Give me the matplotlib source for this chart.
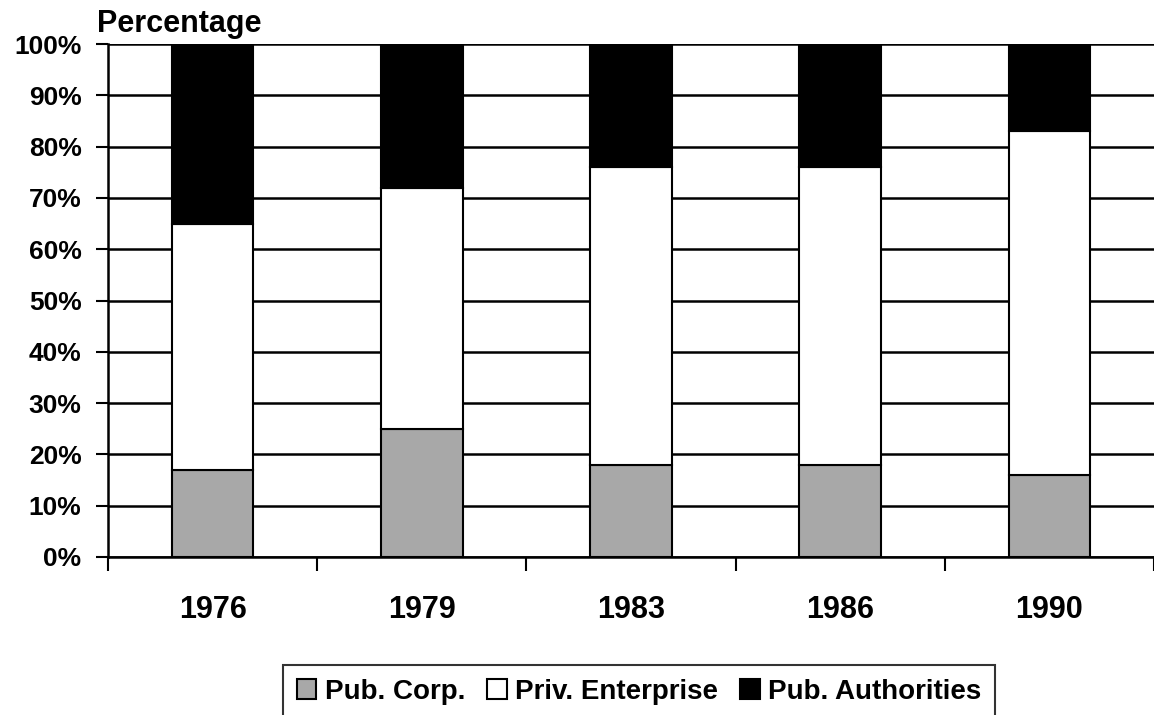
import matplotlib.pyplot as plt
import numpy as np

# Data (percent of total)
years = ['1976', '1979', '1983', '1986', '1990']
pub_corp = [17, 25, 18, 18, 16]
priv_enterprise = [48, 47, 58, 58, 67]
pub_authorities = [35, 28, 24, 24, 17]
series_names = ['Pub. Corp.', 'Priv. Enterprise', 'Pub. Authorities']

plt.rcParams['font.family'] = ['Liberation Sans', 'DejaVu Sans']
plt.rcParams['font.weight'] = 'bold'

W, H = 1154, 715
fig = plt.figure(figsize=(W / 100, H / 100), dpi=100)
ax = fig.add_axes([108 / W, (H - 557) / H, 1046 / W, 513 / H])

x = np.arange(len(years))
bw = 0.39
edge = dict(edgecolor='black', linewidth=1.5, zorder=3)
ax.bar(x, pub_corp, bw, color='#a8a8a8', label=series_names[0], **edge)
ax.bar(x, priv_enterprise, bw, bottom=pub_corp, color='white',
       label=series_names[1], **edge)
bottom2 = np.array(pub_corp) + np.array(priv_enterprise)
ax.bar(x, pub_authorities, bw, bottom=bottom2, color='black',
       label=series_names[2], **edge)

ax.set_xlim(-0.5, -0.5 + 1046 / 210.7)
ax.set_ylim(0, 100)
ax.set_yticks(np.arange(0, 101, 10))
ax.set_yticklabels([f'{v}%' for v in range(0, 101, 10)], fontsize=19,
                   fontweight='bold')
ax.yaxis.grid(True, color='black', linewidth=1.8, zorder=0)
ax.set_axisbelow(True)

ax.set_xticks(x)
ax.set_xticklabels(years, fontsize=22, fontweight='bold')
ax.set_xticks(np.arange(-0.5, len(years), 1), minor=True)
ax.tick_params(axis='x', which='major', length=0, pad=27)
ax.tick_params(axis='x', which='minor', length=10, width=1.5, direction='out')
ax.tick_params(axis='y', length=9, width=1.5, pad=10)

for s in ['top', 'right']:
    ax.spines[s].set_visible(False)
for s in ['left', 'bottom']:
    ax.spines[s].set_linewidth(1.8)

fig.text(97 / W, 1 - 24 / H, 'Percentage', fontsize=22, fontweight='bold',
         va='center', ha='left')

leg = fig.legend(loc='upper left', bbox_to_anchor=(283 / W, 1 - 665 / H),
                 ncol=3, fontsize=20, frameon=True, fancybox=False,
                 handlelength=0.7, handleheight=0.7, handletextpad=0.3,
                 columnspacing=0.8, borderpad=0.5, borderaxespad=0)
leg.get_frame().set_edgecolor('black')
leg.get_frame().set_linewidth(1.5)

fig.savefig('out.png', dpi=100)
